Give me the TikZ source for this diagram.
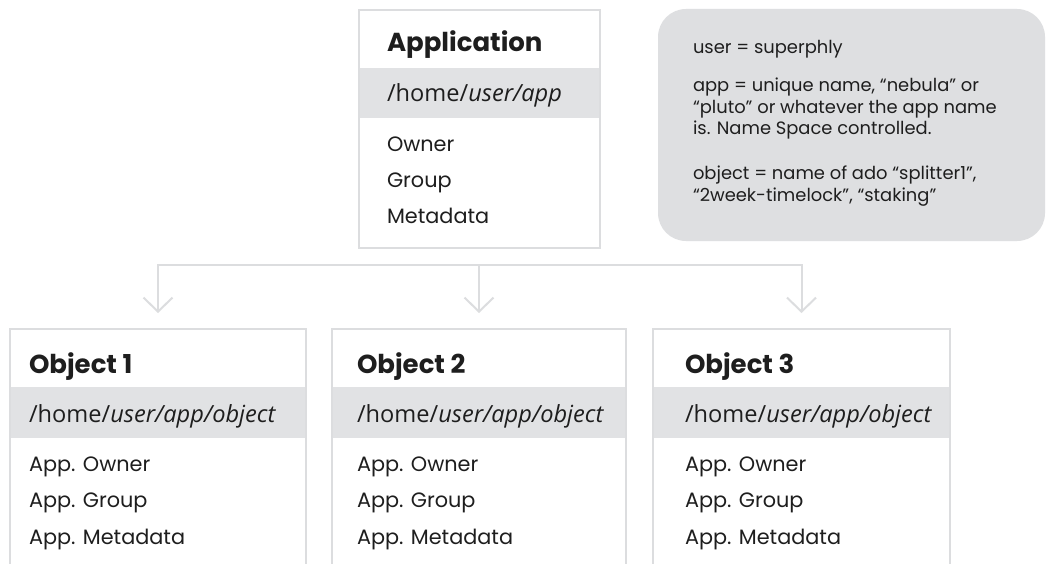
\documentclass[tikz,border=0pt]{standalone}
\usepackage{fontspec}
\setmainfont{Poppins}
\newfontfamily\pathfont{Open Sans}
\usetikzlibrary{arrows.meta}
\definecolor{linegray}{HTML}{DCDDDF}
\definecolor{bandgray}{HTML}{E1E2E4}
\definecolor{notegray}{HTML}{DEDFE1}
\definecolor{ink}{HTML}{1E1E1E}
\tikzset{
  boxarea/.style={draw=none, inner sep=0pt, outer sep=0pt},
  border/.style={draw=linegray, line width=2.5pt},
  band/.style={fill=bandgray, draw=none, inner sep=0pt, outer sep=0pt},
  conn/.style={draw=linegray, line width=2pt, line join=miter},
  tip/.style={-{Straight Barb[length=14pt,width=29pt,line width=2pt]}},
  txt/.style={anchor=base west, inner sep=0pt, outer sep=0pt, text=ink},
  titletxt/.style={txt, font=\fontsize{26}{30}\selectfont\bfseries},
  pathtxt/.style={txt, font=\pathfont\fontsize{23.6}{28}\selectfont},
  bodytxt/.style={txt, font=\fontsize{20.8}{24}\selectfont},
  notetxt/.style={txt, font=\fontsize{17.9}{21}\selectfont},
}
\newcommand{\pathstr}[1]{/home/\textit{#1}}
\begin{document}
\begin{tikzpicture}[x=1pt,y=-1pt]
\useasboundingbox (0,0) rectangle (1046,564);
\fill[white] (0,0) rectangle (1046,564);

% ---------- Application box ----------
\node[boxarea, minimum width=241pt, minimum height=238pt] (app) at (479.5,129) {};
\node[band, minimum width=239pt, minimum height=50pt] (appband) at (479.5,93) {};
\draw[border] (app.north west) rectangle (app.south east);
\node[titletxt] (apptitle) at (387,52) {Application};
\node[pathtxt] (apppath) at (387,102) {\pathstr{user/app}};
\node[bodytxt] (appowner) at (387,152) {Owner};
\node[bodytxt] (appgroup) at (387,188) {Group};
\node[bodytxt] (appmeta) at (387,223) {Metadata};

% ---------- Note ----------
\node[fill=notegray, rounded corners=28pt, inner sep=0pt, minimum width=387pt, minimum height=232pt] (note) at (851.5,125) {};
\node[notetxt] (n1) at (693,54) {user = superphly};
\node[notetxt] (n2) at (693,92) {app = unique name, “nebula” or};
\node[notetxt] (n3) at (693,113.5) {“pluto” or whatever the app name};
\node[notetxt] (n4) at (693,135) {is. Name Space controlled.};
\node[notetxt] (n5) at (693,180) {object = name of ado “splitter1”,};
\node[notetxt] (n6) at (693,201.5) {“2week-timelock”, “staking”};

% ---------- Object boxes ----------
\node[boxarea, minimum width=296pt, minimum height=235pt] (o1) at (158,446.5) {};
\node[boxarea, minimum width=294pt, minimum height=235pt] (o2) at (479,446.5) {};
\node[boxarea, minimum width=297pt, minimum height=235pt] (o3) at (801.5,446.5) {};

\node[band, minimum width=294pt, minimum height=51pt] (o1band) at (158,412.5) {};
\node[band, minimum width=292pt, minimum height=51pt] (o2band) at (479,412.5) {};
\node[band, minimum width=295pt, minimum height=51pt] (o3band) at (801.5,412.5) {};

\draw[border] (o1.south west) -- (o1.north west) -- (o1.north east) -- (o1.south east);
\draw[border] (o2.south west) -- (o2.north west) -- (o2.north east) -- (o2.south east);
\draw[border] (o3.south west) -- (o3.north west) -- (o3.north east) -- (o3.south east);

\node[titletxt] (o1title) at (29,373) {Object 1};
\node[pathtxt] (o1path) at (29,422) {\pathstr{user/app/object}};
\node[bodytxt] (o1owner) at (29,471) {App. Owner};
\node[bodytxt] (o1group) at (29,507) {App. Group};
\node[bodytxt] (o1meta) at (29,544) {App. Metadata};

\node[titletxt] (o2title) at (357,373) {Object 2};
\node[pathtxt] (o2path) at (357,422) {\pathstr{user/app/object}};
\node[bodytxt] (o2owner) at (357,471) {App. Owner};
\node[bodytxt] (o2group) at (357,507) {App. Group};
\node[bodytxt] (o2meta) at (357,544) {App. Metadata};

\node[titletxt] (o3title) at (685,373) {Object 3};
\node[pathtxt] (o3path) at (685,422) {\pathstr{user/app/object}};
\node[bodytxt] (o3owner) at (685,471) {App. Owner};
\node[bodytxt] (o3group) at (685,507) {App. Group};
\node[bodytxt] (o3meta) at (685,544) {App. Metadata};

% ---------- Connectors ----------
\coordinate (b1) at (o1.north |- 0,265);
\coordinate (b2) at (o2.north |- 0,265);
\coordinate (b3) at (o3.north |- 0,265);
\draw[conn, {Straight Barb[length=14pt,width=29pt,line width=2pt]}-{Straight Barb[length=14pt,width=29pt,line width=2pt]}]
  ([yshift=16pt]o1.north) -- (b1) -- (b3) -- ([yshift=16pt]o3.north);
\draw[conn, tip] (b2) -- ([yshift=16pt]o2.north);
\end{tikzpicture}
\end{document}
